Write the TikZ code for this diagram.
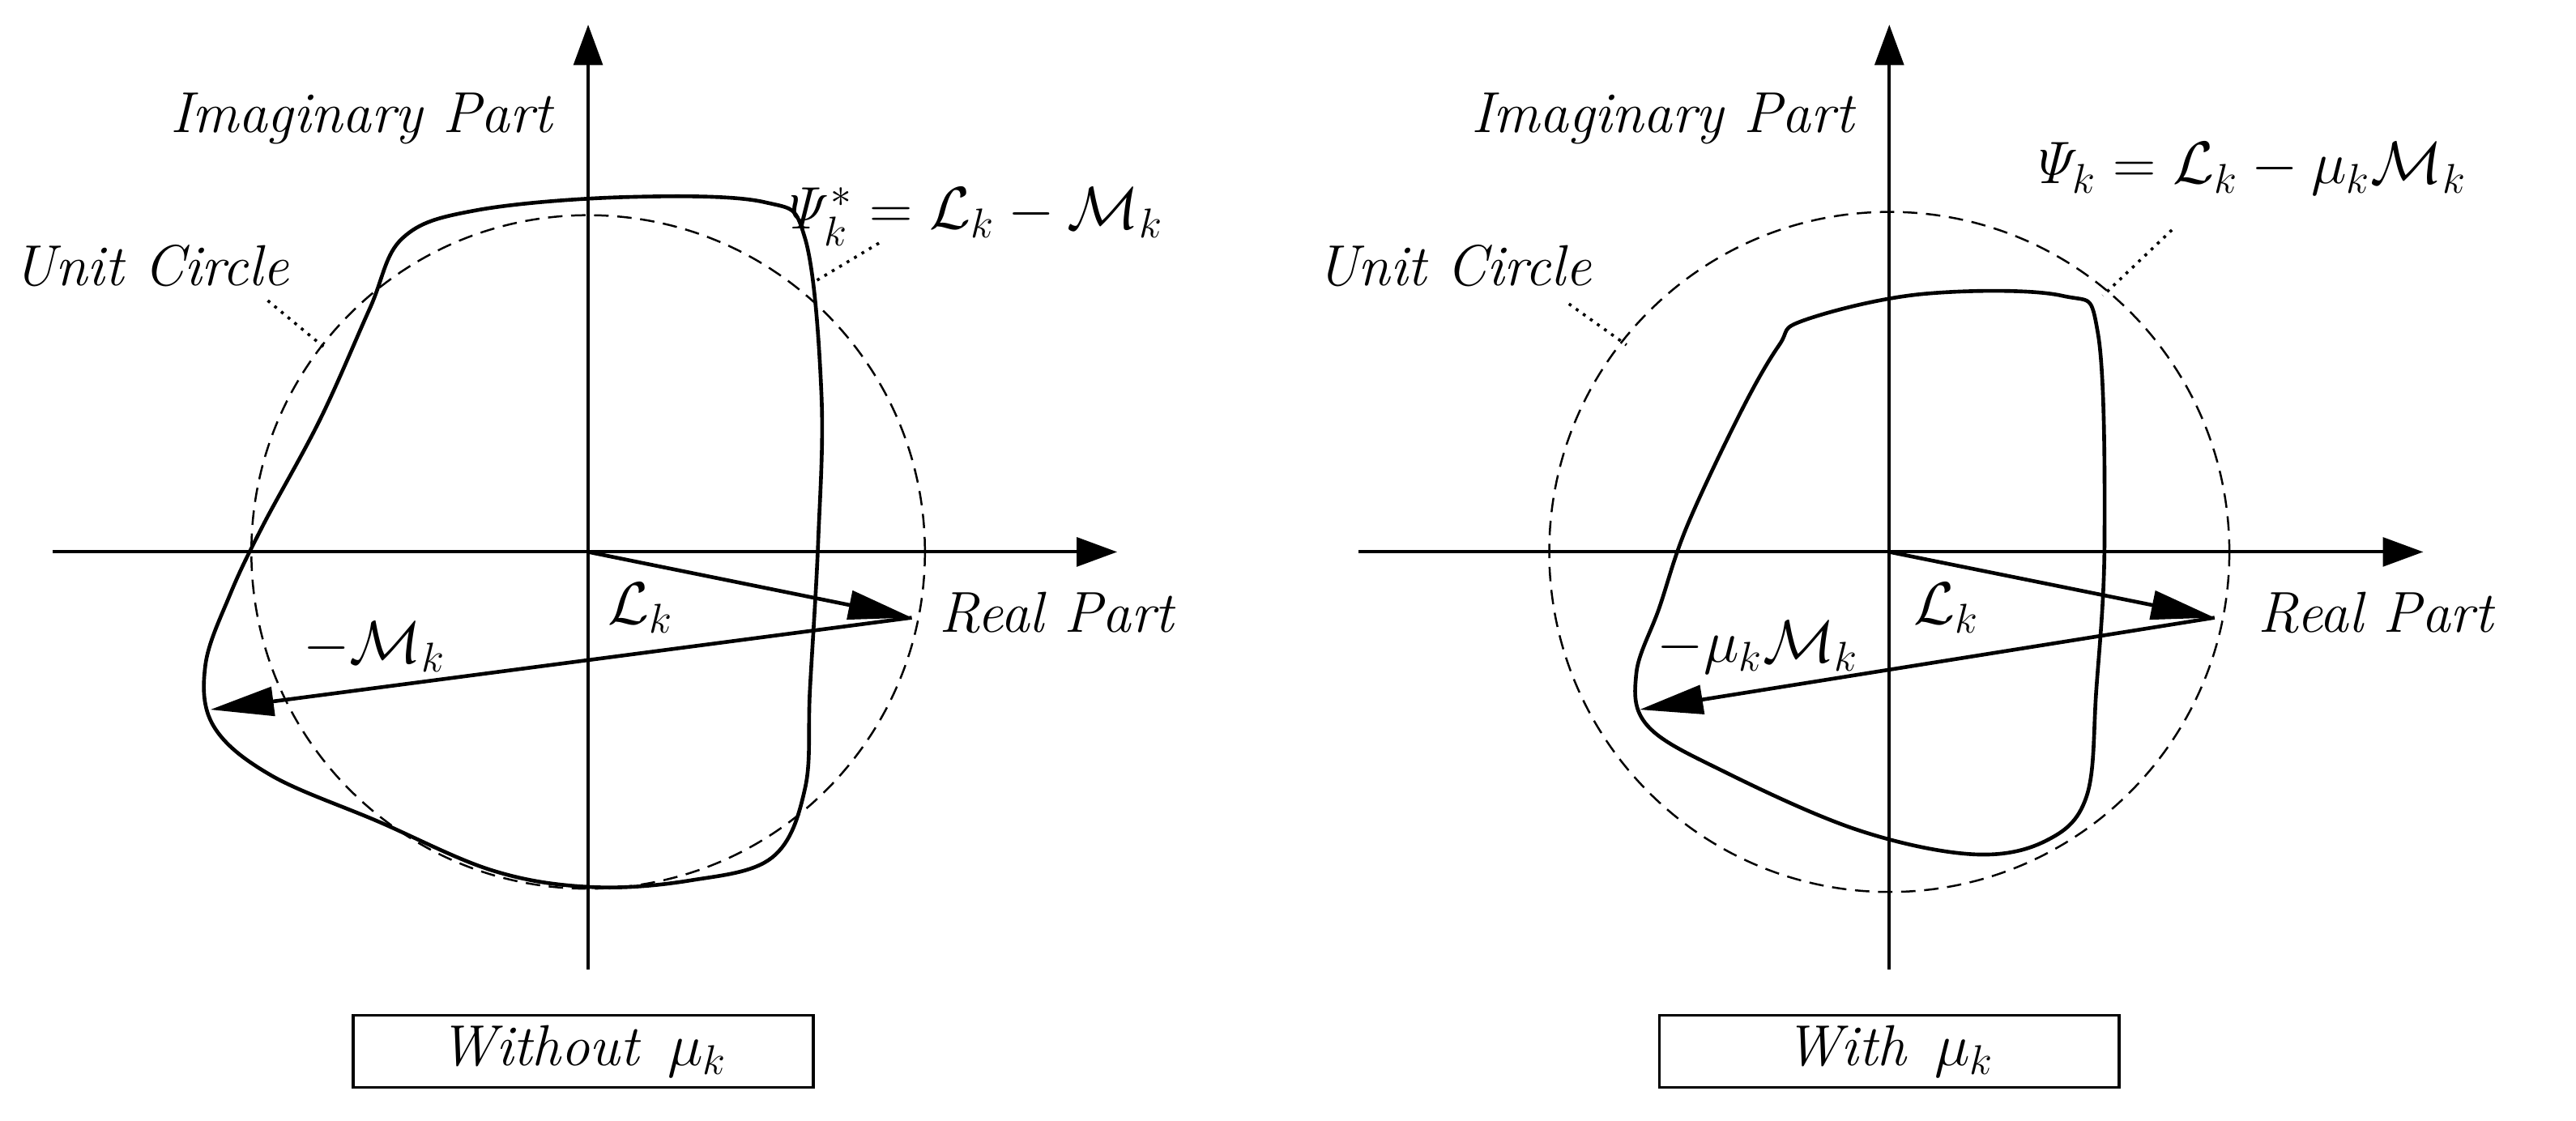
\documentclass[tikz,border=0pt]{standalone}
\usepackage{amsmath}
\usetikzlibrary{arrows.meta}
\begin{document}
\begin{tikzpicture}[x=0.02cm,y=-0.02cm,
  lab/.style={font=\fontsize{20}{24}\selectfont\itshape},
  mlab/.style={font=\fontsize{22}{26}\selectfont},
  ax/.style={line width=1.1pt,-{Triangle[length=14pt,width=10pt]}},
  vec/.style={line width=1.3pt,-{Triangle[length=22pt,width=10pt]}},
  curve/.style={line width=1.3pt},
  uc/.style={dashed,line width=0.7pt,dash pattern=on 5pt off 3pt},
  lead/.style={dotted,line width=1pt},
  capbox/.style={draw,line width=1pt,minimum width=5.6cm,minimum height=0.88cm,font=\fontsize{20}{24}\selectfont\itshape}]
\useasboundingbox (0,0) rectangle (1568,682);
% ---------- left ----------
\coordinate (O1) at (358,336);
\coordinate (A1) at (555,376);
\coordinate (B1) at (128,432);
\draw[ax] (32,336) -- (680,336);
\draw[ax] (358,590) -- (358,15);
\draw[uc] (O1) ellipse [x radius=205,y radius=205];
\draw[curve] plot[smooth cycle,tension=0.6] coordinates{(245,145) (290,128) (380,120) (465,123) (490,145) (500,240) (498,330) (493,420) (490,480) (470,522) (420,536) (360,540) (300,530) (230,500) (165,472) (130,442) (125,405) (140,362) (160,320) (195,255) (225,188)};
\draw[vec] (O1) -- (A1);
\draw[vec] (A1) -- (B1);
\node[mlab] (L1) at (390,370) {$\mathcal{L}_k$};
\node[mlab] (M1) at (228,394) {$-\mathcal{M}_k$};
\node[lab] (R1) at (643,373) {Real Part};
\node[lab] (I1) at (220,72) {Imaginary Part};
\node[lab] (U1) at (92,162) {Unit Circle};
\coordinate (u1a) at (163,183); \coordinate (u1b) at (198,212);
\draw[lead] (u1a) -- (u1b);
\node[mlab,anchor=west] (P1) at (468,132) {$\mathit{\Psi}_k^* = \mathcal{L}_k - \mathcal{M}_k$};
\coordinate (p1a) at (535,148); \coordinate (p1b) at (495,172);
\draw[lead] (p1a) -- (p1b);
\node[capbox] (C1) at (355,640) {Without\enspace $\mu_k$};
% ---------- right ----------
\coordinate (O2) at (1150,336);
\coordinate (A2) at (1348,376);
\coordinate (B2) at (998,432);
\draw[ax] (827,336) -- (1475,336);
\draw[ax] (1150,590) -- (1150,15);
\draw[uc] (O2) ellipse [x radius=207,y radius=207];
\draw[curve] plot[smooth cycle,tension=0.6] coordinates{(1098,195) (1170,179) (1255,180) (1277,203) (1281,330) (1276,420) (1270,485) (1245,512) (1200,520) (1130,505) (1050,470) (1003,442) (996,410) (1010,370) (1027,320) (1060,250) (1083,210)};
\draw[vec] (O2) -- (A2);
\draw[vec] (A2) -- (B2);
\node[mlab] (L2) at (1185,370) {$\mathcal{L}_k$};
\node[mlab] (M2) at (1070,394) {$-\mu_k\mathcal{M}_k$};
\node[lab] (R2) at (1446,373) {Real Part};
\node[lab] (I2) at (1012,72) {Imaginary Part};
\node[lab] (U2) at (885,162) {Unit Circle};
\coordinate (u2a) at (955,185); \coordinate (u2b) at (990,210);
\draw[lead] (u2a) -- (u2b);
\node[mlab,anchor=west] (P2) at (1228,103) {$\mathit{\Psi}_k = \mathcal{L}_k - \mu_k\mathcal{M}_k$};
\coordinate (p2a) at (1322,140); \coordinate (p2b) at (1280,180);
\draw[lead] (p2a) -- (p2b);
\node[capbox] (C2) at (1150,640) {With\enspace $\mu_k$};
\end{tikzpicture}
\end{document}
